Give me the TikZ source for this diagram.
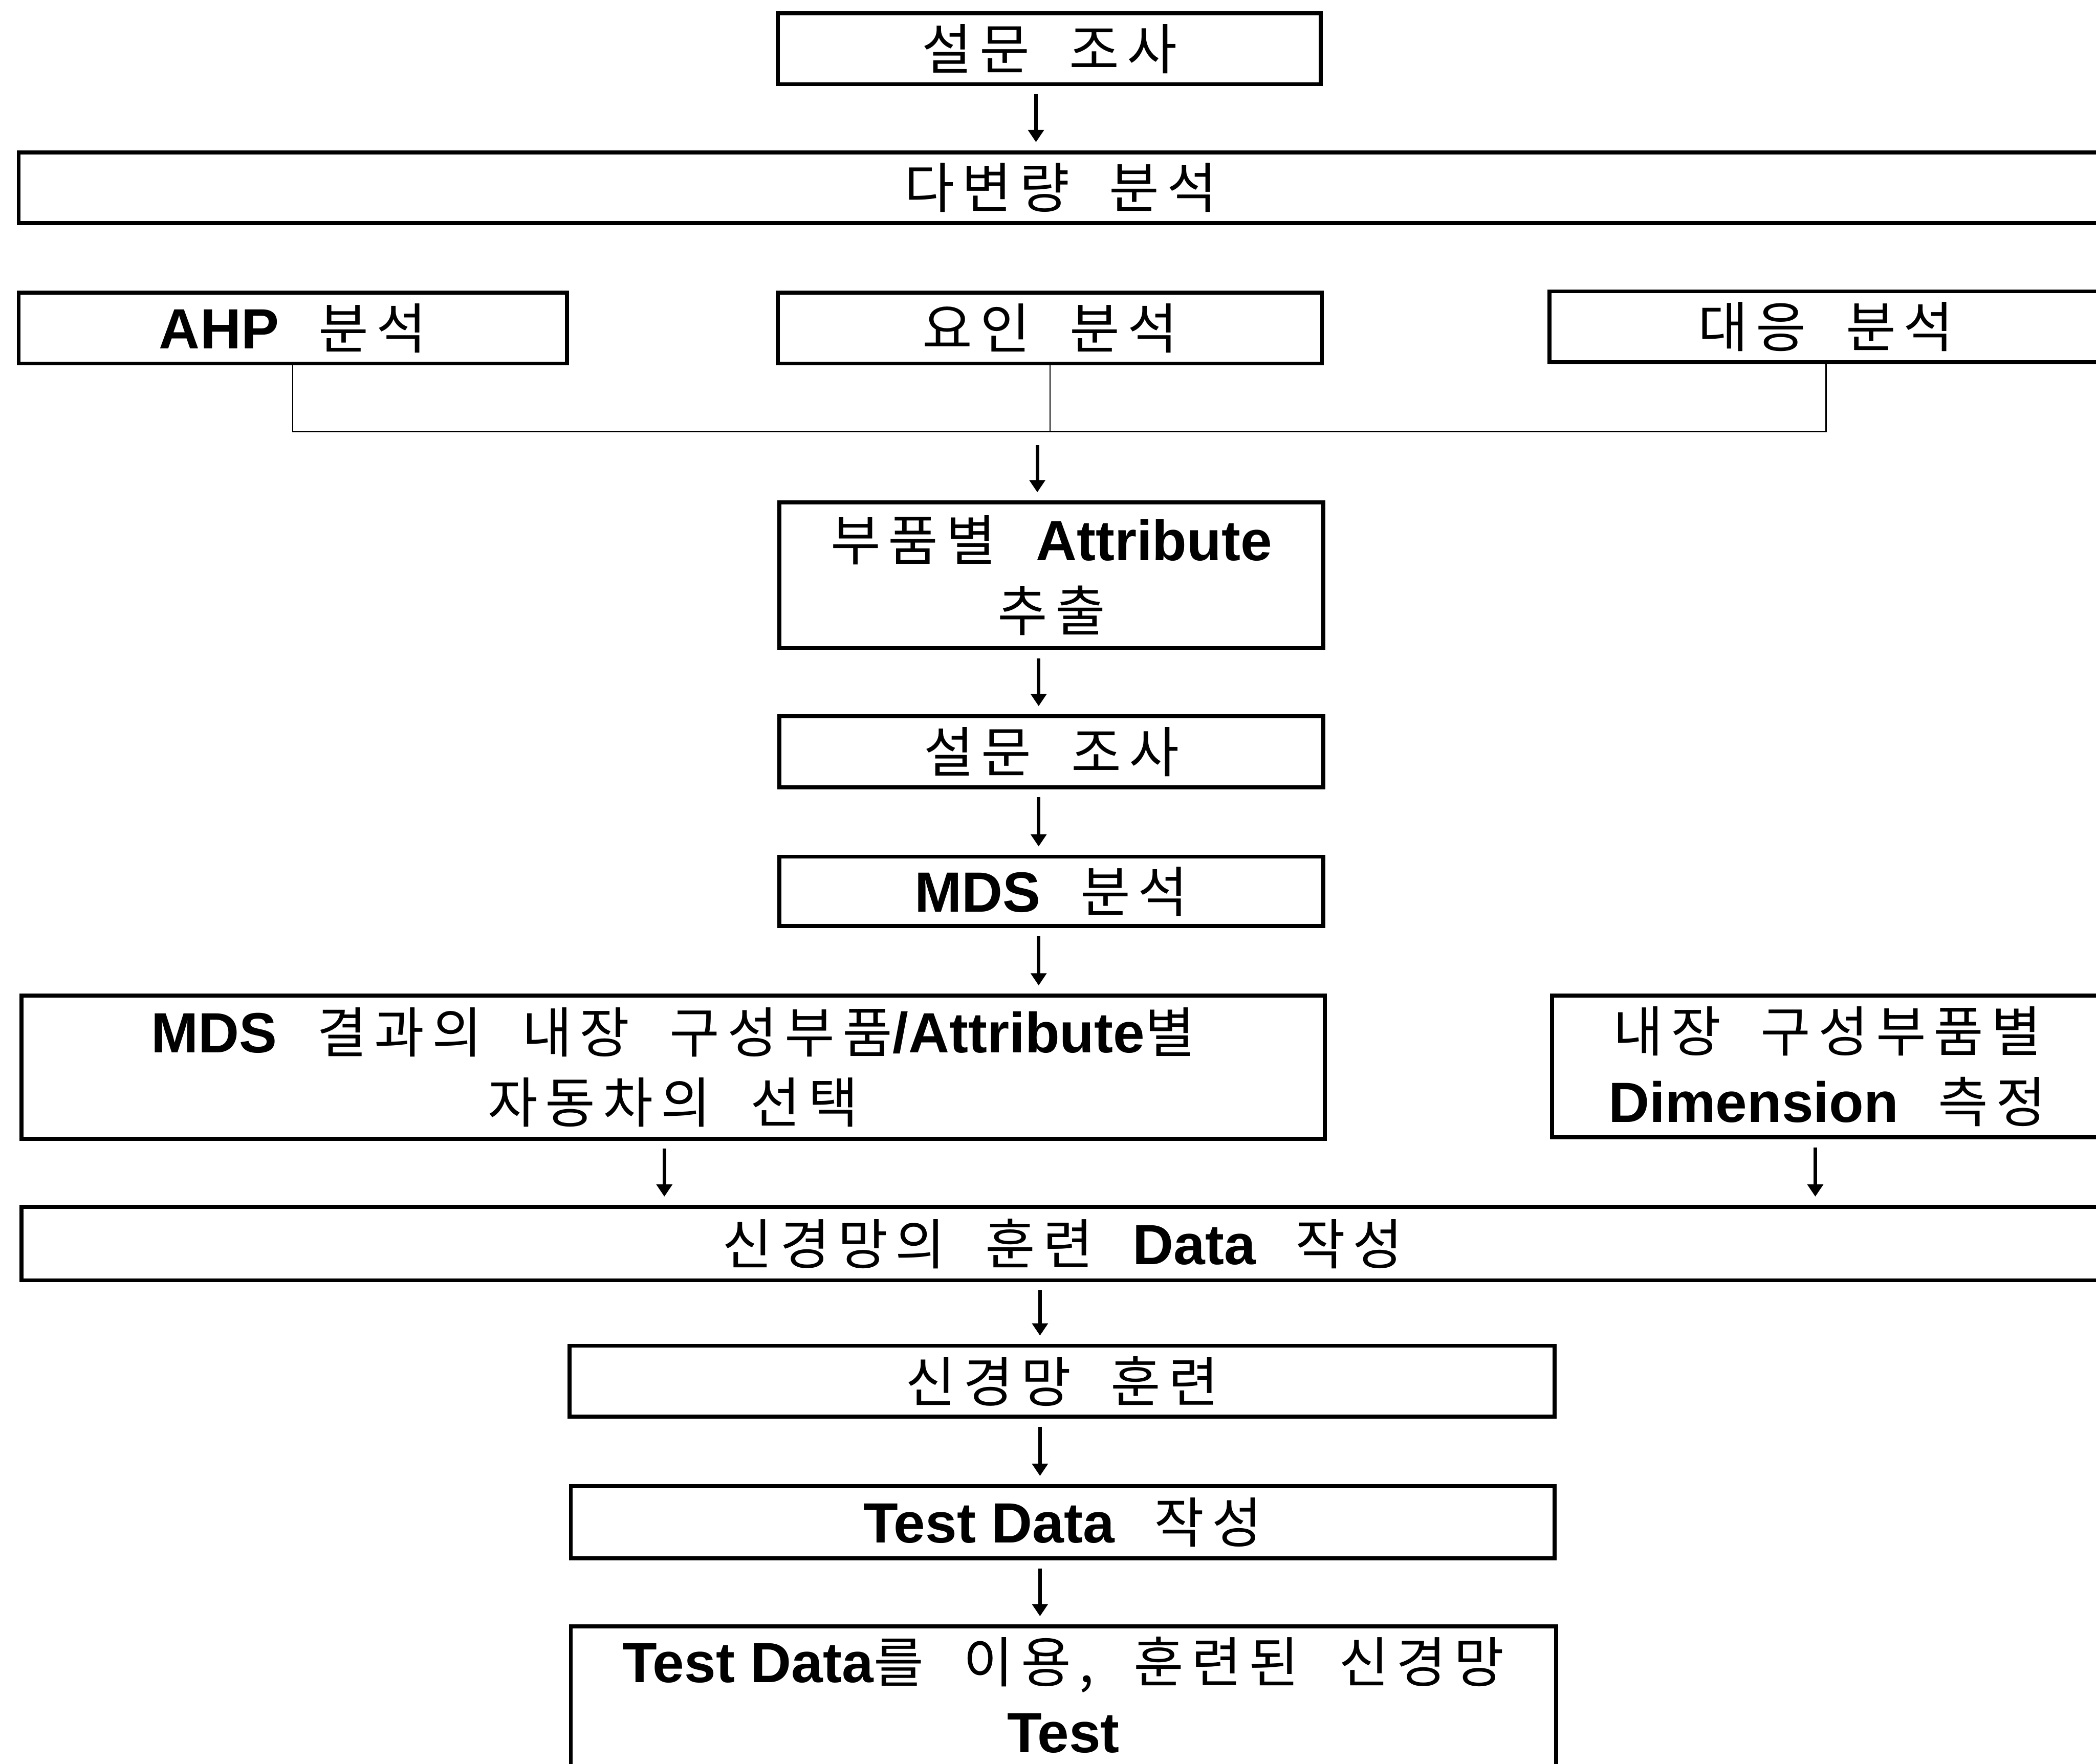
\documentclass[tikz,border=0pt]{standalone}
\usepackage{fontspec}
\setmainfont{Noto Sans CJK KR}[Scale=0.96, WordSpace=2.0, LetterSpace=14]
\newfontfamily\latfont{Liberation Sans}
\newcommand\lat[1]{{\latfont\bfseries #1}}
\usetikzlibrary{arrows.meta,calc}
\newcommand\flowbox[6]{\node[box, minimum width={(#3-#2)*0.0294cm}, minimum height={(#5-#4)*0.0294cm}] (#1) at ({(#2+#3)/2},{(#4+#5)/2}) {#6};}
\newcommand\flowarrow[3]{%
  \coordinate (s#1#2) at ($(#1.south)+(#3,6)$);
  \draw[arr] (s#1#2) -- (s#1#2 |- #2.north);}
\begin{document}
\begin{tikzpicture}[x=0.0294cm, y=-0.0294cm,
  box/.style={draw, line width=2.5pt, inner sep=0pt, align=center, font=\fontsize{35.5}{44}\selectfont},
  arr/.style={line width=2.2pt, -{Triangle[length=0.27cm,width=0.34cm]}, shorten >=0.18cm},
  link/.style={line width=0.9pt}]
\path[use as bounding box] (0,0) rectangle (1568,1319.7);
\clip (0,0) rectangle (1568,1319.7);

\flowbox{b1}{582}{988}{10}{63}{설문 조사}
\flowbox{b2}{14}{1573}{114}{167}{다변량 분석}
\flowbox{b3a}{14}{424}{219}{272}{\lat{AHP} 분석}
\flowbox{b3b}{582}{989}{219}{272}{요인 분석}
\flowbox{b3c}{1159}{1573}{218}{271}{대응 분석}
\flowbox{b4}{583}{990}{376}{485}{부품별 \lat{Attribute}\\추출}
\flowbox{b5}{583}{990}{536}{589}{설문 조사}
\flowbox{b6}{583}{990}{641}{693}{\lat{MDS} 분석}
\flowbox{b7}{16}{991}{745}{852}{\lat{MDS} 결과의 내장 구성부품\lat{/Attribute}별\\자동차의 선택}
\flowbox{b8}{1161}{1573}{745}{851}{내장 구성부품별\\\lat{Dimension} 측정}
\flowbox{b9}{16}{1574}{903}{958}{신경망의 훈련 \lat{Data} 작성}
\flowbox{b10}{426}{1163}{1007}{1060}{신경망 훈련}
\flowbox{b11}{427}{1163}{1112}{1166}{\lat{Test Data} 작성}
\node[box, text depth=0.2cm, minimum width={737*0.0294cm}, minimum height={109*0.0294cm}] (b12) at (795.5,1271.5)
  {\lat{Test Data}를 이용, 훈련된 신경망\\\lat{Test}};

% bracket joining the three analyses
\coordinate (j) at (785.5,323);
\draw[link] (b3a.south) |- (j) -| (b3c.south);
\draw[link] (b3b.south) -- (j);

\flowarrow{b1}{b2}{-10}
\coordinate (sj) at ($(j)+(-9.5,10)$);
\draw[arr] (sj) -- (sj |- b4.north);
\flowarrow{b4}{b5}{-9.5}
\flowarrow{b5}{b6}{-9.5}
\flowarrow{b6}{b7}{-9.5}
\flowarrow{b7}{b9}{-6.5}
\flowarrow{b8}{b9}{-9}
\flowarrow{b9}{b10}{-17}
\flowarrow{b10}{b11}{-16.5}
\flowarrow{b11}{b12}{-17}
\end{tikzpicture}
\end{document}
